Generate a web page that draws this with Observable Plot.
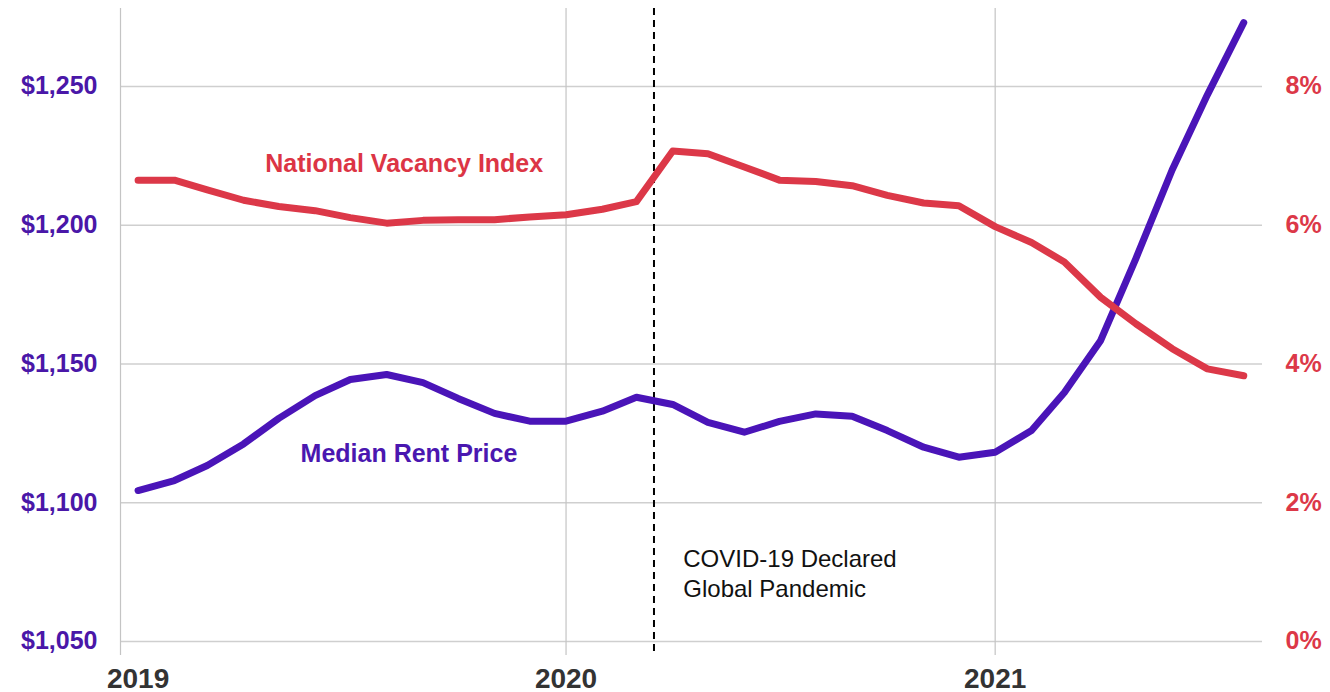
<!DOCTYPE html>
<html>
<head>
<meta charset="utf-8">
<script src="https://cdn.jsdelivr.net/npm/d3@7"></script>
<script src="https://cdn.jsdelivr.net/npm/@observablehq/plot@0.6"></script>
<style>
  html, body { margin: 0; padding: 0; background: #ffffff; }
  #chart svg { display: block; }
</style>
</head>
<body>
<div id="chart"></div>
<script>
// ---- data ----
const months = [
  "2019-01","2019-02","2019-03","2019-04","2019-05","2019-06","2019-07","2019-08","2019-09","2019-10","2019-11","2019-12",
  "2020-01","2020-02","2020-03","2020-04","2020-05","2020-06","2020-07","2020-08","2020-09","2020-10","2020-11","2020-12",
  "2021-01","2021-02","2021-03","2021-04","2021-05","2021-06","2021-07","2021-08"
];
const medianRent = [
  1104.4, 1108, 1113.4, 1121.2, 1130.4, 1138.6, 1144.4, 1146.2, 1143.3, 1137.6, 1132.2, 1129.4,
  1129.4, 1133, 1138, 1135.4, 1129, 1125.4, 1129.3, 1132, 1131.2, 1126, 1120, 1116.4,
  1118.2, 1126, 1139.7, 1158.5, 1188, 1220, 1247, 1273
];
const vacancyIndex = [
  6.65, 6.65, 6.51, 6.36, 6.27, 6.21, 6.11, 6.03, 6.07, 6.08, 6.08, 6.12,
  6.15, 6.23, 6.34, 7.07, 7.03, 6.84, 6.65, 6.63, 6.57, 6.43, 6.32, 6.28,
  5.98, 5.75, 5.47, 4.96, 4.58, 4.22, 3.93, 3.83
];
const rentTicks = [1050, 1100, 1150, 1200, 1250];
const pctTicks = [0, 2, 4, 6, 8];
const yearTicks = ["2019-01-01", "2020-01-01", "2021-01-01"];
const yearGrid = ["2020-01-01", "2021-01-01"];
const xDomain = ["2018-12-17", "2021-08-17"];
const yDomain = [1044.95, 1278.1];
const pandemicDate = ["2020-03-16"];
const seriesLabels = [
  {text: "National Vacancy Index", date: "2019-08-16", value: 1221.9, color: "#dc3545"},
  {text: "Median Rent Price", date: "2019-08-20", value: 1117.7, color: "#4a17b0"}
];
const noteLabel = [{text: "COVID-19 Declared\nGlobal Pandemic", date: "2020-04-10", value: 1084.6}];

// ---- helpers ----
const purple = "#4a14b8";
const purpleText = "#4a17a8";
const red = "#dc3848";
const parse = s => new Date(s.length === 7 ? s + "-01" : s);
// secondary axis: 0% ↔ $1,050, 8% ↔ $1,250
const pctToRent = p => 1050 + p * 25;

const rentData = months.map((m, i) => ({date: parse(m), value: medianRent[i]}));
const vacData = months.map((m, i) => ({date: parse(m), value: pctToRent(vacancyIndex[i])}));

const font = "'Helvetica Neue', Helvetica, Arial, 'Liberation Sans', sans-serif";

const chart = Plot.plot({
  width: 1330,
  height: 692,
  marginLeft: 120,
  marginRight: 68,
  marginTop: 8,
  marginBottom: 37,
  style: {fontFamily: font, background: "#ffffff", overflow: "visible"},
  x: {type: "utc", domain: xDomain.map(parse), axis: null},
  y: {domain: yDomain, axis: null},
  marks: [
    Plot.gridY(rentTicks, {stroke: "#cfcfcf", strokeOpacity: 1, strokeWidth: 1.3}),
    Plot.ruleX([parse(xDomain[0]), ...yearGrid.map(parse)], {stroke: "#c4c4c4", strokeWidth: 1.2}),
    Plot.ruleX(pandemicDate.map(parse), {stroke: "#000", strokeWidth: 2, strokeDasharray: "7,5"}),
    Plot.axisY(rentTicks, {
      anchor: "left", label: null, tickSize: 0, tickPadding: 23,
      tickFormat: d => "$" + d3.format(",")(d),
      fill: purpleText, fontSize: 25, fontWeight: "bold"
    }),
    Plot.axisY(pctTicks.map(pctToRent), {
      anchor: "right", label: null, tickSize: 0, tickPadding: 23,
      tickFormat: d => Math.round((d - 1050) / 25) + "%",
      fill: red, fontSize: 25, fontWeight: "bold"
    }),
    Plot.axisX(yearTicks.map(parse), {
      anchor: "bottom", label: null, tickSize: 0, tickPadding: 13,
      tickFormat: d3.utcFormat("%Y"),
      fill: "#333333", fontSize: 28, fontWeight: "bold"
    }),
    Plot.line(rentData, {x: "date", y: "value", stroke: purple, strokeWidth: 7, strokeLinecap: "round", strokeLinejoin: "round"}),
    Plot.line(vacData, {x: "date", y: "value", stroke: red, strokeWidth: 7, strokeLinecap: "round", strokeLinejoin: "round"}),
    Plot.text(seriesLabels, {
      x: d => parse(d.date), y: "value", text: "text", fill: d => d.color,
      fontSize: 25, fontWeight: "bold", textAnchor: "middle", lineAnchor: "middle"
    }),
    Plot.text(noteLabel, {
      x: d => parse(d.date), y: "value", text: "text", fill: "#111",
      fontSize: 24, textAnchor: "start", lineAnchor: "top", lineHeight: 1.25
    })
  ]
});

document.getElementById("chart").appendChild(chart);
</script>
</body>
</html>
